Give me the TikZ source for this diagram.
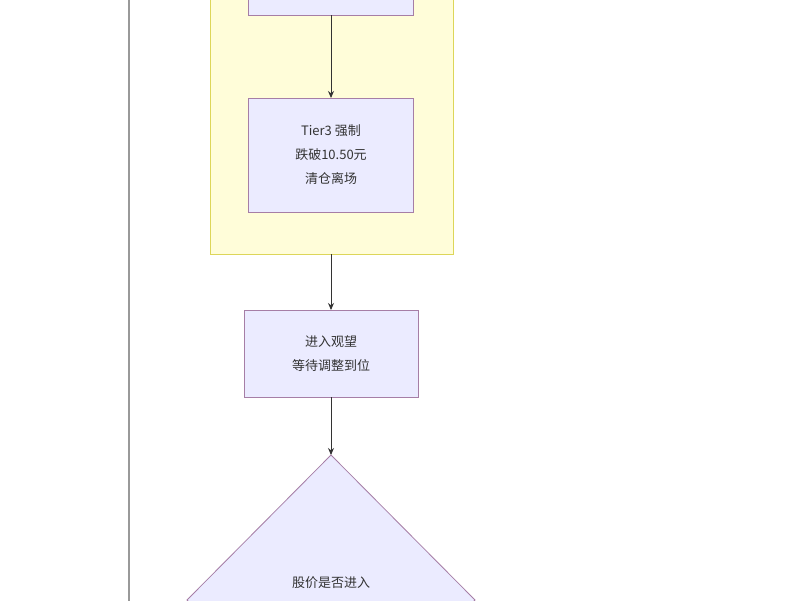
\documentclass[tikz,border=0pt]{standalone}
\usepackage{fontspec}
\usetikzlibrary{arrows.meta}
\setmainfont{Noto Sans CJK SC}
\begin{document}
\begin{tikzpicture}[x=1pt,y=-1pt,
  box/.style={draw=violet!45!gray!70,fill=blue!8!white,line width=0.8pt},
  lbl/.style={font=\fontsize{13}{24}\selectfont,text=black!80,align=center},
  arr/.style={draw=black!80,line width=0.9pt,-{Stealth[length=7pt,width=6pt]}}]
\useasboundingbox (0,0) rectangle (800,600);
\clip (0,0) rectangle (800,600);
\fill[white] (0,0) rectangle (800,600);
\draw[gray!80,line width=1.2pt] (129,-5) -- (129,605);
\draw[fill=yellow!15!white,draw=yellow!50!olive!60,line width=0.8pt] (210,-10) rectangle (453,254);
\draw[box] (248,-30) rectangle (413,15);
\coordinate (a) at (331,15);
\draw[box] (248,98) rectangle (413,212);
\node[lbl] (b) at (331,155) {Tier3 强制\\跌破10.50元\\清仓离场};
\coordinate (bt) at (331,98);
\coordinate (bb) at (331,254);
\draw[box] (244,310) rectangle (418,397);
\node[lbl] (c) at (331,353.5) {进入观望\\等待调整到位};
\coordinate (ct) at (331,310);
\coordinate (cb) at (331,397);
\coordinate (dt) at (331,455);
\draw[box] (331,455) -- (475,600) -- (331,745) -- (187,600) -- cycle;
\node[lbl] (d) at (331,583) {股价是否进入};
\draw[arr] (a) -- (bt);
\draw[arr] (bb) -- (ct);
\draw[arr] (cb) -- (dt);
\end{tikzpicture}
\end{document}
